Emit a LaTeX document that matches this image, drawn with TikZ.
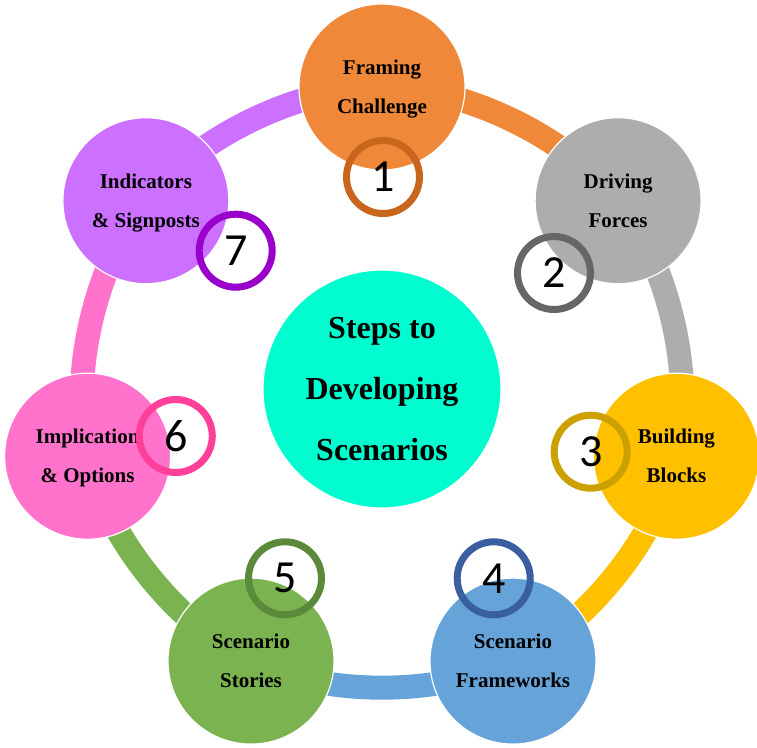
\documentclass[tikz,border=0pt]{standalone}
\usepackage{fontspec}
\setmainfont{Liberation Serif}
\newfontfamily\numfont{Carlito}
\usetikzlibrary{backgrounds}

\definecolor{framingc}{RGB}{240,136,58}
\definecolor{drivingc}{RGB}{173,173,173}
\definecolor{buildingc}{RGB}{255,192,0}
\definecolor{frameworkc}{RGB}{102,163,217}
\definecolor{storiesc}{RGB}{122,179,80}
\definecolor{implicc}{RGB}{255,115,204}
\definecolor{indicc}{RGB}{204,112,255}
\definecolor{hubc}{RGB}{0,252,207}
\definecolor{ring1}{RGB}{200,102,30}
\definecolor{ring2}{RGB}{102,102,102}
\definecolor{ring3}{RGB}{204,160,0}
\definecolor{ring4}{RGB}{58,95,160}
\definecolor{ring5}{RGB}{90,138,58}
\definecolor{ring6}{RGB}{255,64,153}
\definecolor{ring7}{RGB}{153,0,204}

\begin{document}
\begin{tikzpicture}[x=1pt, y=1pt,
    stepnode/.style={circle, minimum size=166pt, inner sep=0pt, draw=white, line width=1.2pt, align=center, text depth=-2pt, font=\bfseries\fontsize{21}{39}\selectfont},
    hub/.style={circle, minimum size=238pt, inner sep=0pt, draw=white, line width=1.2pt, align=center, text depth=-5pt, font=\bfseries\fontsize{32}{61}\selectfont},
    badge/.style={circle, minimum size=73pt, inner sep=0pt, line width=7pt, font=\numfont\fontsize{46}{46}\selectfont},
    band/.style={line width=24pt, bend left=25.7, looseness=0.8}]
        \useasboundingbox (-382,-358) rectangle (375,389);

        % Nodes
        \node (hub) [hub, fill=hubc] {Steps to\\Developing\\Scenarios};
        \node (framing) [stepnode, fill=framingc] at (90:302) {Framing\\Challenge};
        \node (driving) [stepnode, fill=drivingc] at (38.57:302) {Driving\\Forces};
        \node (building) [stepnode, fill=buildingc] at (-12.86:302) {Building\\Blocks};
        \node (frameworks) [stepnode, fill=frameworkc] at (-64.29:302) {Scenario\\Frameworks};
        \node (stories) [stepnode, fill=storiesc] at (-115.71:302) {Scenario\\Stories};
        \node (implication) [stepnode, fill=implicc] at (-167.14:302) {Implication\\\& Options};
        \node (indicators) [stepnode, fill=indicc] at (141.43:302) {Indicators\\\& Signposts};

        % Numbers
        \node (n1) [badge, draw=ring1] at (1,212) {1};
        \node (n2) [badge, draw=ring2] at (172,116) {2};
        \node (n3) [badge, draw=ring3] at (208.7,-62.7) {3};
        \node (n4) [badge, draw=ring4] at (111.7,-189.3) {4};
        \node (n5) [badge, draw=ring5] at (-97,-189.3) {5};
        \node (n6) [badge, draw=ring6] at (-206.2,-47) {6};
        \node (n7) [badge, draw=ring7] at (-146.3,138.3) {7};

        % Edges
        \begin{scope}[on background layer]
        \draw[band, framingc] (framing.center) to (driving.center);
        \draw[band, drivingc] (driving.center) to (building.center);
        \draw[band, buildingc] (building.center) to (frameworks.center);
        \draw[band, frameworkc] (frameworks.center) to (stories.center);
        \draw[band, storiesc] (stories.center) to (implication.center);
        \draw[band, implicc] (implication.center) to (indicators.center);
        \draw[band, indicc] (indicators.center) to (framing.center);
        \end{scope}
    \end{tikzpicture}
\end{document}
